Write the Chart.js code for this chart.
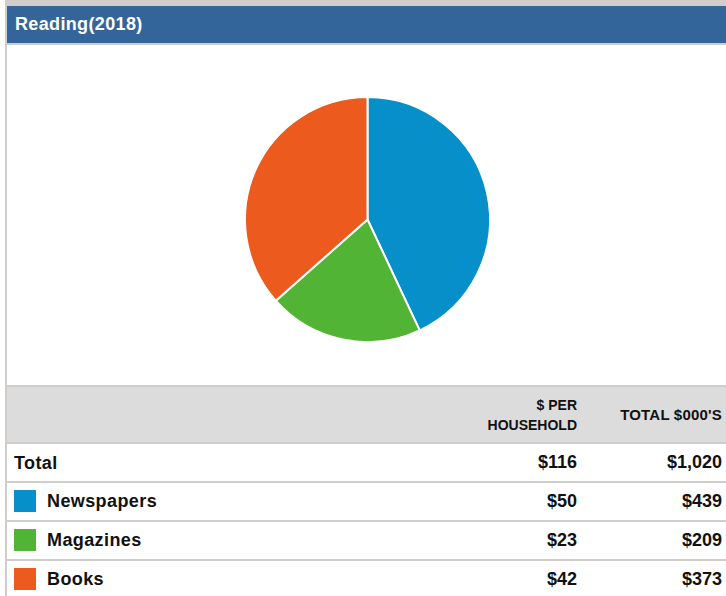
<!DOCTYPE html>
<html>
<head>
<meta charset="utf-8">
<title>Reading(2018)</title>
<script src="https://cdn.jsdelivr.net/npm/chart.js@4/dist/chart.umd.min.js"></script>
<style>
  html, body { margin: 0; padding: 0; background: #fff; }
  body { width: 726px; height: 596px; overflow: hidden; font-family: "Liberation Sans", Arial, sans-serif; }
  #panel {
    position: absolute; left: 5px; top: 0; width: 719px;
    border-left: 2px solid #d0cdcb; border-top: 6px solid #d0cdcb;
  }
  #title {
    height: 37px; background: #34659a; color: #fff;
    font-weight: bold; font-size: 18px; line-height: 37px;
    padding-left: 8px; border-bottom: 2px solid #d0cdcb;
    letter-spacing: 0.35px;
  }
  #chartBox { position: relative; width: 719px; height: 340px; }
  table { border-collapse: collapse; width: 719px; table-layout: fixed; }
  td, th { padding: 0; font-weight: bold; color: #111; }
  tr { border-top: 2px solid #d0cdcb; }
  thead tr th { background: #dcdcdc; height: 55px; font-size: 14px; line-height: 20px; text-align: right; padding-right: 4px; }
  thead tr th.wide { font-size: 15px; letter-spacing: 0.2px; }
  tbody td { height: 37px; font-size: 18px; }
  td.num { text-align: right; padding-right: 4px; }
  td.lab { padding-left: 7px; }
  .sw { display: inline-block; width: 22px; height: 22px; vertical-align: middle; margin-right: 11px; position: relative; top: -1px; }
  .lt { vertical-align: middle; letter-spacing: 0.4px; }
</style>
</head>
<body>
<div id="panel">
  <div id="title">Reading(2018)</div>
  <div id="chartBox"><canvas id="pie"></canvas></div>
  <table id="tbl">
    <colgroup><col style="width:469px"><col style="width:105px"><col style="width:145px"></colgroup>
    <thead><tr><th></th><th>$ PER<br>HOUSEHOLD</th><th class="wide">TOTAL $000'S</th></tr></thead>
    <tbody></tbody>
  </table>
</div>
<script>
// Spending categories and their figures
const categories = ["Newspapers", "Magazines", "Books"];
const perHousehold = [50, 23, 42];
const totalThousands = [439, 209, 373];
const sliceColors = ["#068fc9", "#52b435", "#ec5a1e"];
const totalPerHousehold = 116;
const totalAll = 1020;

const money = v => "$" + v.toLocaleString("en-US");

// Summary table: total row first, then one row per category with its colour swatch
const tbody = document.querySelector("#tbl tbody");
function addRow(labelHtml, a, b) {
  const tr = document.createElement("tr");
  tr.innerHTML = `<td class="lab">${labelHtml}</td><td class="num">${money(a)}</td><td class="num">${money(b)}</td>`;
  tbody.appendChild(tr);
}
addRow('<span class="lt">Total</span>', totalPerHousehold, totalAll);
categories.forEach((c, i) => {
  addRow(`<span class="sw" style="background:${sliceColors[i]}"></span><span class="lt">${c}</span>`,
         perHousehold[i], totalThousands[i]);
});

new Chart(document.getElementById("pie"), {
  type: "pie",
  data: {
    labels: categories,
    datasets: [{
      data: totalThousands,
      backgroundColor: sliceColors,
      borderColor: "#ffffff",
      borderWidth: 2
    }]
  },
  options: {
    responsive: true,
    maintainAspectRatio: false,
    animation: false,
    layout: { padding: { top: 51, bottom: 42, left: 2, right: 0 } },
    plugins: { legend: { display: false }, tooltip: { enabled: false } }
  }
});
</script>
</body>
</html>
